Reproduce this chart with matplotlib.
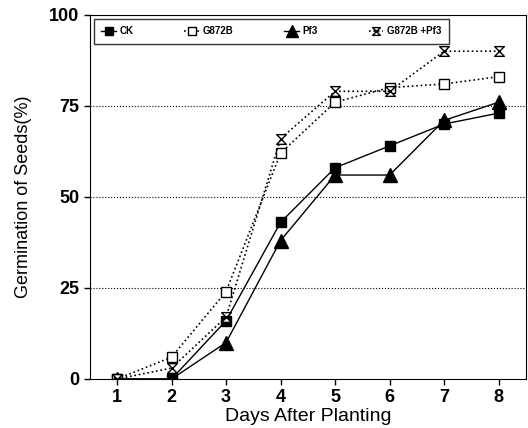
import matplotlib
matplotlib.use("Agg")
import matplotlib.pyplot as plt
from matplotlib.path import Path

plt.rcParams['font.family'] = ['Liberation Sans', 'DejaVu Sans']

days = [1, 2, 3, 4, 5, 6, 7, 8]
ck = [0, 0, 16, 43, 58, 64, 70, 73]
g872b = [0, 6, 24, 62, 76, 80, 81, 83]
pf3 = [0, 0, 10, 38, 56, 56, 71, 76]
g872b_pf3 = [0, 3, 17, 66, 79, 79, 90, 90]
yticks = [0, 25, 50, 75, 100]

# hourglass marker
hourglass = Path([(-1, 1), (1, 1), (-1, -1), (1, -1), (-1, 1)],
                 [Path.MOVETO, Path.LINETO, Path.LINETO, Path.LINETO, Path.CLOSEPOLY])

fig = plt.figure(figsize=(5.28, 4.28), dpi=100)
ax = fig.add_axes([0.17, 0.1145, 0.826, 0.851])

ax.plot(days, ck, '-', color='black', lw=1, marker='s', ms=7,
        mfc='black', mec='black', label='CK')
ax.plot(days, g872b, ':', color='black', lw=1.2, marker='s', ms=7,
        mfc='white', mec='black', label='G872B')
ax.plot(days, pf3, '-', color='black', lw=1, marker='^', ms=10,
        mfc='black', mec='black', label='Pf3')
ax.plot(days, g872b_pf3, ':', color='black', lw=1.2, marker=hourglass, ms=7,
        mfc='white', mec='black', label='G872B +Pf3')

for y in [25, 50, 75]:
    ax.axhline(y, color='black', lw=0.8, ls=':', zorder=0)

ax.set_xlim(0.5, 8.5)
ax.set_ylim(0, 100)
ax.set_xticks(days)
ax.set_yticks(yticks)
ax.tick_params(labelsize=13, direction='out', length=4, width=1)
for lab in ax.get_xticklabels() + ax.get_yticklabels():
    lab.set_fontweight('bold')
ax.set_xlabel('Days After Planting', fontsize=14, labelpad=1)
ax.set_ylabel('Germination of Seeds(%)', fontsize=13, labelpad=12)

leg = ax.legend(loc='upper left', ncol=4, fontsize=7, frameon=True,
                fancybox=False, edgecolor='black', handlelength=1.5,
                columnspacing=5.2, borderaxespad=0.4, handletextpad=0.4,
                borderpad=0.8, markerscale=0.8)
leg.get_frame().set_linewidth(1)
for t in leg.get_texts():
    t.set_fontweight('bold')

fig.savefig('out.png', dpi=100)
